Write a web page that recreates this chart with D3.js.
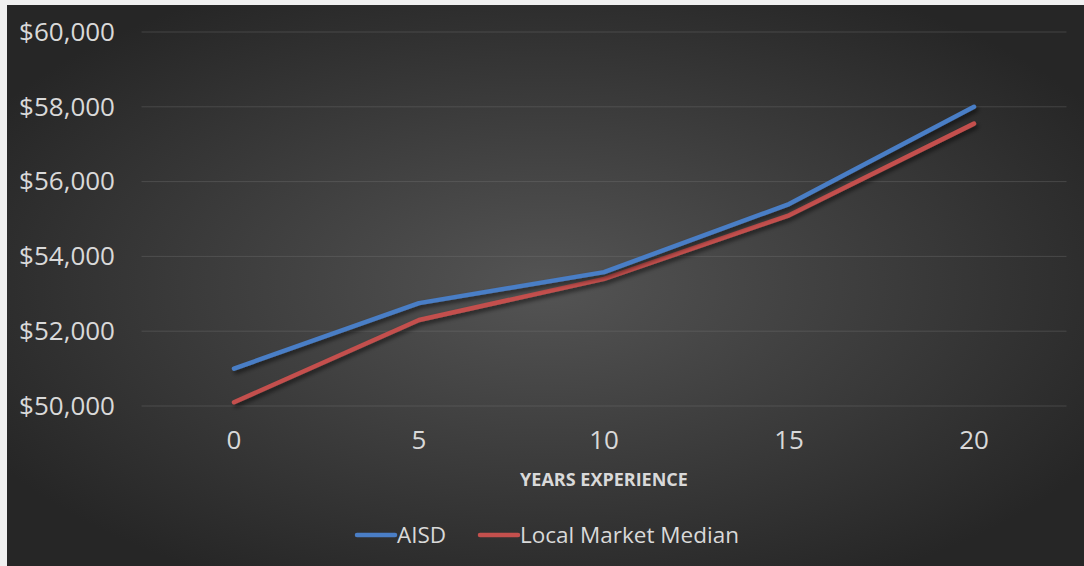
<!DOCTYPE html>
<html>
<head>
<meta charset="utf-8">
<script src="https://cdn.jsdelivr.net/npm/d3@7"></script>
<style>
  body { margin: 0; background: #f0f0f0; }
  text { font-family: "Open Sans", sans-serif; fill: #d9d9d9; }
</style>
</head>
<body>
<div id="chart"></div>
<script>
//Chart data
var years = [0, 5, 10, 15, 20];
var aisd = [51000, 52750, 53580, 55400, 58000];
var localMedian = [50100, 52300, 53400, 55100, 57550];
var yTicks = [50000, 52000, 54000, 56000, 58000, 60000];
var seriesNames = ["AISD", "Local Market Median"];
var seriesColors = ["#4a7ec6", "#c4504d"];

var width = 1084,
  height = 566;

var margin = { left: 141.5, right: 17.5, top: 32, bottom: 160 };

var svg = d3
  .select("#chart")
  .append("svg")
  .attr("width", width)
  .attr("height", height);

var defs = svg.append("defs");

var grad = defs
  .append("radialGradient")
  .attr("id", "bg")
  .attr("cx", "50%")
  .attr("cy", "50%")
  .attr("r", "60%");
grad.append("stop").attr("offset", "0%").attr("stop-color", "#545454");
grad.append("stop").attr("offset", "100%").attr("stop-color", "#262626");

var shadow = defs
  .append("filter")
  .attr("id", "shadow")
  .attr("x", "-10%")
  .attr("y", "-10%")
  .attr("width", "120%")
  .attr("height", "130%");
shadow
  .append("feDropShadow")
  .attr("dx", 2)
  .attr("dy", 3)
  .attr("stdDeviation", 2)
  .attr("flood-color", "#000")
  .attr("flood-opacity", 0.55);

//Chart panel
svg
  .append("rect")
  .attr("x", 7)
  .attr("y", 5)
  .attr("width", width - 7)
  .attr("height", height - 5)
  .attr("fill", "url(#bg)");

//Scales
var x = d3
  .scaleBand()
  .domain(years)
  .range([margin.left, width - margin.right]);

var y = d3
  .scaleLinear()
  .domain([50000, 60000])
  .range([406, margin.top]);

var fmt = function (d) {
  return "$" + d3.format(",")(d);
};

//Gridlines
svg
  .append("g")
  .selectAll("line")
  .data(yTicks)
  .enter()
  .append("line")
  .attr("x1", margin.left)
  .attr("x2", width - margin.right)
  .attr("y1", function (d) {
    return y(d);
  })
  .attr("y2", function (d) {
    return y(d);
  })
  .attr("stroke", "#777")
  .attr("stroke-opacity", 0.35)
  .attr("stroke-width", 1);

//Y axis labels
var yAxis = svg
  .append("g")
  .attr("transform", "translate(115,0)")
  .call(d3.axisLeft(y).tickValues(yTicks).tickFormat(fmt).tickSize(0).tickPadding(0));
yAxis.select(".domain").remove();
yAxis
  .selectAll("text")
  .attr("fill", "#d9d9d9")
  .style("font-size", "26px")
  .style("font-family", "'Open Sans', sans-serif");

//X axis labels
var xAxis = svg
  .append("g")
  .attr("transform", "translate(0,431)")
  .call(d3.axisBottom(x).tickSize(0).tickPadding(0));
xAxis.select(".domain").remove();
xAxis
  .selectAll("text")
  .attr("fill", "#d9d9d9")
  .style("font-size", "26px")
  .style("font-family", "'Open Sans', sans-serif");

//Axis title
svg
  .append("text")
  .attr("x", x(10) + x.bandwidth() / 2)
  .attr("y", 486)
  .attr("text-anchor", "middle")
  .style("font-size", "18px")
  .style("font-weight", "bold")
  .text("YEARS EXPERIENCE");

//Lines
var line = d3
  .line()
  .x(function (d, i) {
    return x(years[i]) + x.bandwidth() / 2;
  })
  .y(function (d) {
    return y(d);
  });

var series = [localMedian, aisd];
var seriesCol = [seriesColors[1], seriesColors[0]];

svg
  .append("g")
  .selectAll("path")
  .data(series)
  .enter()
  .append("path")
  .attr("d", line)
  .attr("fill", "none")
  .attr("stroke", function (d, i) {
    return seriesCol[i];
  })
  .attr("stroke-width", 4.5)
  .attr("stroke-linecap", "round")
  .attr("stroke-linejoin", "round")
  .attr("filter", "url(#shadow)");

//Legend
var legendX = [357, 480];
var legend = svg
  .append("g")
  .selectAll("g")
  .data(seriesNames)
  .enter()
  .append("g")
  .attr("transform", function (d, i) {
    return "translate(" + legendX[i] + ",535)";
  });

legend
  .append("line")
  .attr("x1", 0)
  .attr("x2", 38)
  .attr("stroke", function (d, i) {
    return seriesColors[i];
  })
  .attr("stroke-width", 4.5)
  .attr("stroke-linecap", "round");

legend
  .append("text")
  .attr("x", 40)
  .attr("dy", "0.35em")
  .style("font-size", "22.5px")
  .text(function (d) {
    return d;
  });
</script>
</body>
</html>
